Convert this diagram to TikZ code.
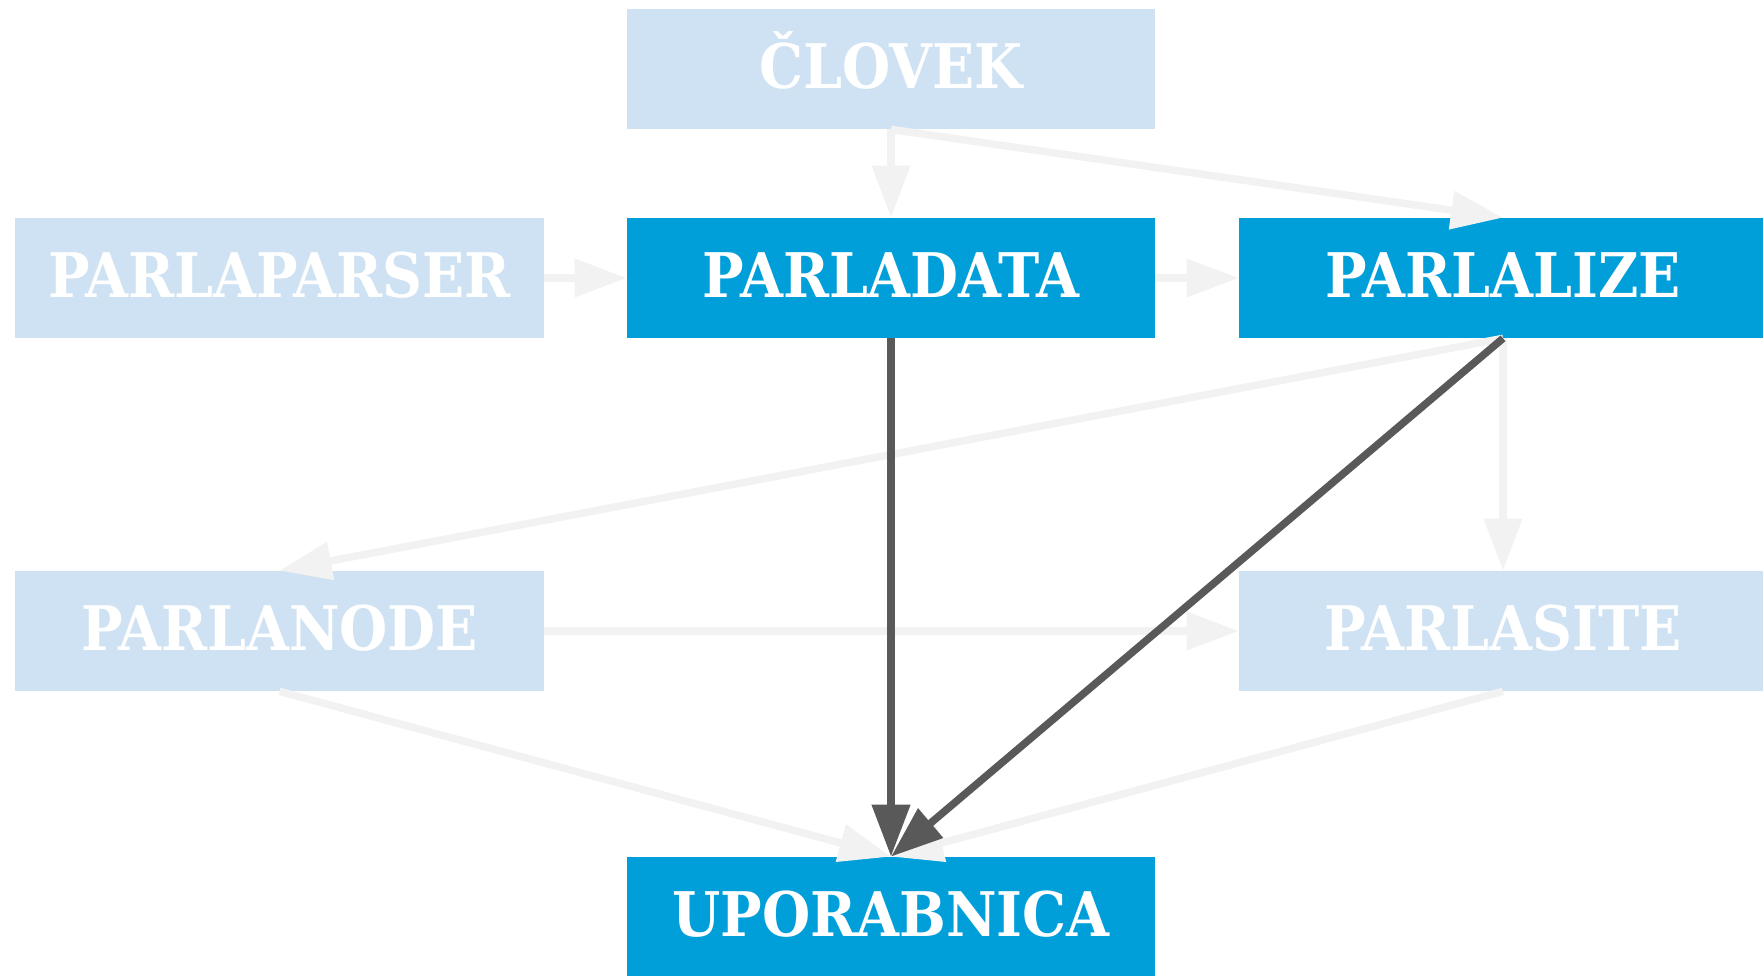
\documentclass[tikz,border=0pt]{standalone}
\usepackage{fontspec}
\setmainfont{DejaVu Serif Condensed}
\usetikzlibrary{arrows.meta}

\definecolor{paleblue}{HTML}{CFE2F3}
\definecolor{brightblue}{HTML}{009FDA}
\definecolor{lightedge}{HTML}{F2F2F2}
\definecolor{darkedge}{HTML}{595959}

\tikzset{
	module/.style={minimum width=10.56cm,minimum height=2.4cm,inner sep=0,text=white,
		font=\fontsize{35}{40}\selectfont\bfseries,text height=0.77cm,text depth=0cm},
	idle/.style={module,fill=paleblue},
	active/.style={module,fill=brightblue},
	faint/.style={lightedge,line width=0.15cm,-{Triangle[length=1.04cm,width=0.74cm]}},
	strong/.style={darkedge,line width=0.15cm,-{Triangle[length=1.04cm,width=0.74cm]}}
}

\begin{document}
\begin{tikzpicture}
	\useasboundingbox (0,0) rectangle (35.26,-19.52);
	%MODULES
	\node[idle] (clovek) at (17.82,-1.38) {ČLOVEK};
	\node[idle] (parlaparser) at (5.59,-5.56) {PARLAPARSER};
	\node[active] (parladata) at (17.82,-5.56) {PARLADATA};
	\node[active] (parlalize) at (30.06,-5.56) {PARLALIZE};
	\node[idle] (parlanode) at (5.59,-12.62) {PARLANODE};
	\node[idle] (parlasite) at (30.06,-12.62) {PARLASITE};
	\node[active] (uporabnica) at (17.82,-18.34) {UPORABNICA};
	
	%FAINT EDGES
	\draw[faint] (clovek.south)--(parladata.north);
	\draw[faint] (clovek.south)--(parlalize.north);
	\draw[faint] (parlaparser.east)--(parladata.west);
	\draw[faint] (parladata.east)--(parlalize.west);
	\draw[faint] (parlalize.south)--(parlanode.north);
	\draw[faint] (parlalize.south)--(parlasite.north);
	\draw[faint] (parlanode.east)--(parlasite.west);
	\draw[faint] (parlanode.south)--(uporabnica.north);
	\draw[faint] (parlasite.south)--(uporabnica.north);
	
	%STRONG EDGES
	\draw[strong] (parladata.south)--(uporabnica.north);
	\draw[strong] (parlalize.south)--(uporabnica.north);
\end{tikzpicture}
\end{document}
